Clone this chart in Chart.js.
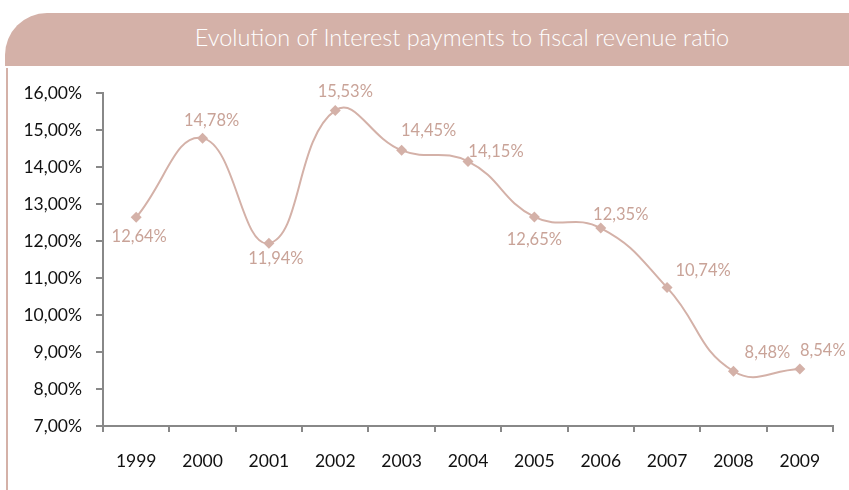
<!DOCTYPE html>
<html>
<head>
<meta charset="utf-8">
<script src="https://cdn.jsdelivr.net/npm/chart.js@4.4.1/dist/chart.umd.min.js"></script>
<style>
  html, body { margin: 0; padding: 0; background: #fff; }
  body { width: 849px; height: 490px; position: relative; overflow: hidden; font-family: Lato, sans-serif; }
  #header {
    position: absolute; left: 5px; top: 13px; width: 900px; height: 53px;
    background: #d4b1a8; border-radius: 42px 42px 0 0;
  }
  #header span {
    position: absolute; left: 0; width: 914px; top: -2px; line-height: 53px;
    text-align: center; color: #fff; font-size: 23.5px; font-weight: 300;
  }
  #edge { position: absolute; left: 6px; top: 68px; width: 2px; height: 422px; background: #d4b1a8; }
  #wrap { position: absolute; left: 0; top: 68px; width: 849px; height: 422px; }
</style>
</head>
<body>
<div id="header"><span>Evolution of Interest payments to fiscal revenue ratio</span></div>
<div id="edge"></div>
<div id="wrap"><canvas id="chart"></canvas></div>
<script>
const years = ["1999", "2000", "2001", "2002", "2003", "2004", "2005", "2006", "2007", "2008", "2009"];
const ratio = [12.64, 14.78, 11.94, 15.53, 14.45, 14.15, 12.65, 12.35, 10.74, 8.48, 8.54];

const lineColor = "#d4b1a8";
const textColor = "#c9a398";

const pct = v => v.toFixed(2).replace(".", ",") + "%";

// where each value label sits relative to its marker
const labelShift = [
  [3, 19], [9, -17], [7, 15], [10, -19], [27, -20], [28, -10],
  [0, 23], [20, -13], [36, -17], [34, -19], [23, -18]
];

const valueLabels = {
  id: "valueLabels",
  afterDatasetsDraw(chart) {
    const ctx = chart.ctx;
    const meta = chart.getDatasetMeta(0);
    ctx.save();
    ctx.font = "16.5px Lato";
    ctx.fillStyle = textColor;
    ctx.textAlign = "center";
    ctx.textBaseline = "middle";
    meta.data.forEach((pt, i) => {
      const [dx, dy] = labelShift[i];
      ctx.fillText(pct(ratio[i]), pt.x + dx, pt.y + dy);
    });
    ctx.restore();
  }
};

new Chart(document.getElementById("chart"), {
  type: "line",
  data: {
    labels: years,
    datasets: [{
      data: ratio,
      borderColor: lineColor,
      borderWidth: 2,
      tension: 0.45,
      pointStyle: "rectRot",
      pointRadius: 5.5,
      pointBackgroundColor: lineColor,
      pointBorderColor: lineColor,
      pointBorderWidth: 0,
      clip: false
    }]
  },
  options: {
    responsive: true,
    maintainAspectRatio: false,
    animation: false,
    layout: { padding: { top: 25, right: 16, left: 0, bottom: 0 } },
    plugins: { legend: { display: false }, tooltip: { enabled: false } },
    scales: {
      x: {
        offset: true,
        grid: { offset: true, drawOnChartArea: false, drawTicks: true, tickLength: 6, color: "#888", lineWidth: 2 },
        border: { color: "#888", width: 2 },
        ticks: { color: "#111", font: { family: "Lato", size: 17.5 }, padding: 19, maxRotation: 0 },
        afterFit(scale) { scale.height = 64; }
      },
      y: {
        min: 7,
        max: 16,
        grid: { drawOnChartArea: false, drawTicks: true, tickLength: 7, color: "#888", lineWidth: 2 },
        border: { color: "#888", width: 2 },
        ticks: { stepSize: 1, color: "#111", font: { family: "Lato", size: 17.5 }, padding: 14, callback: v => pct(v) },
        afterFit(scale) { scale.width = 103; }
      }
    }
  },
  plugins: [valueLabels]
});
</script>
</body>
</html>
